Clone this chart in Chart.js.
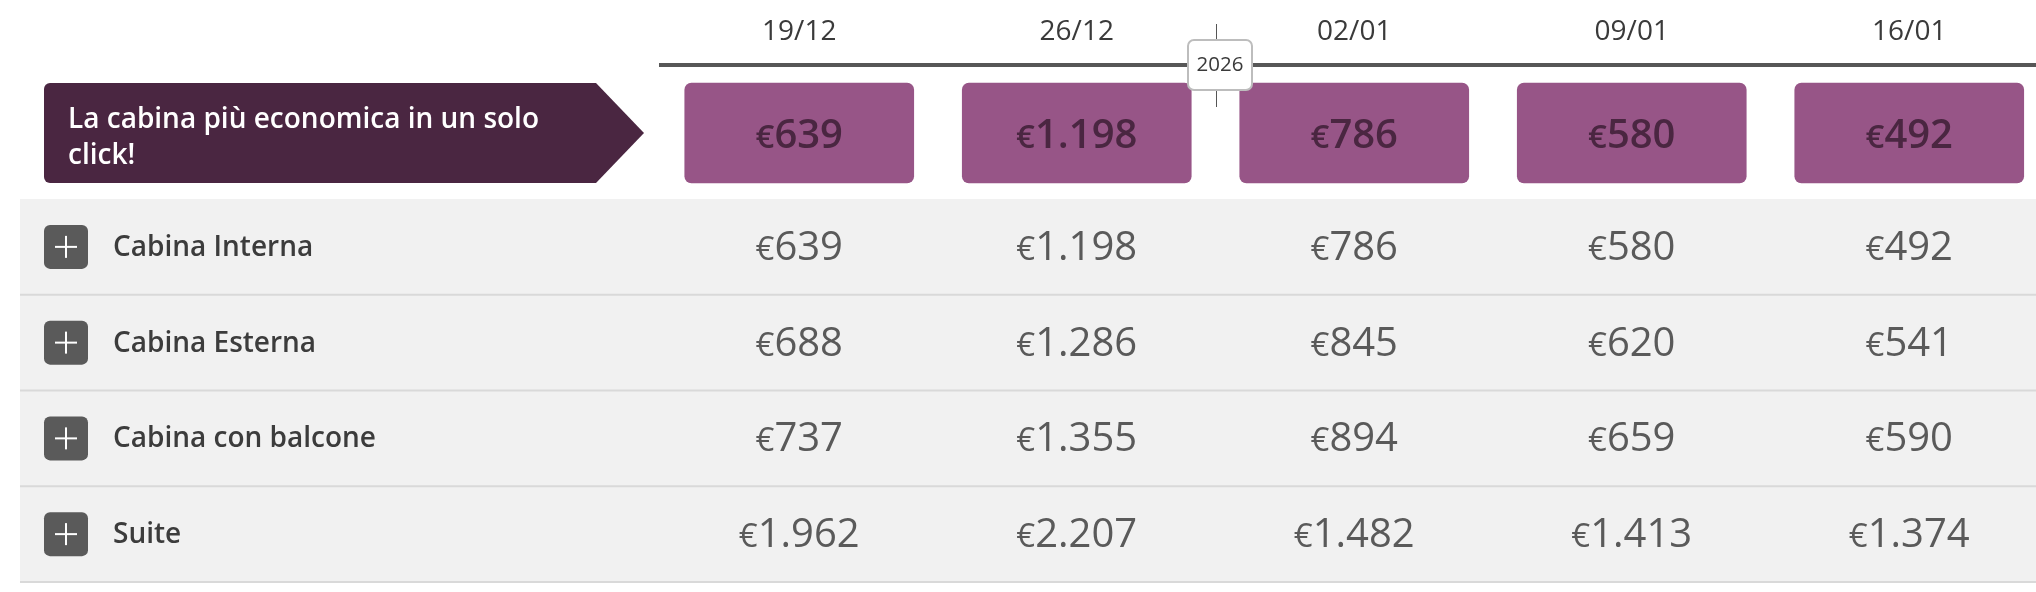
<!DOCTYPE html>
<html>
<head>
<meta charset="utf-8">
<title>Prezzi cabine</title>
<script src="https://cdn.jsdelivr.net/npm/chart.js@4"></script>
<style>
  html, body { margin: 0; padding: 0; background: #fff; overflow: hidden; }
  #wrap { width: 2036px; height: 592px; overflow: hidden; }
</style>
</head>
<body>
<div id="wrap"><canvas id="myChart" width="2048" height="592"></canvas></div>
<script>
const dates = ["19/12", "26/12", "02/01", "09/01", "16/01"];
const rows = ["Cabina Interna", "Cabina Esterna", "Cabina con balcone", "Suite"];
const cheapest = [639, 1198, 786, 580, 492];
const interna = [639, 1198, 786, 580, 492];
const esterna = [688, 1286, 845, 620, 541];
const balcone = [737, 1355, 894, 659, 590];
const suite = [1962, 2207, 1482, 1413, 1374];
const promoLines = ["La cabina più economica in un solo", "click!"];
const yearLabel = "2026";

const FONT = '"Open Sans", "Noto Sans", sans-serif';

function priceText(v) {
  return String(v).replace(/\B(?=(\d{3})+$)/g, ".");
}

function drawPrice(ctx, x, y, value, color, weight) {
  const digits = priceText(value);
  ctx.font = weight + " 33px " + FONT;
  const w1 = ctx.measureText("€").width;
  ctx.font = weight + " 40px " + FONT;
  const w2 = ctx.measureText(digits).width;
  const left = x - (w1 + w2) / 2;
  ctx.fillStyle = color;
  ctx.textBaseline = "alphabetic";
  ctx.textAlign = "left";
  ctx.fillText(digits, left + w1, y);
  ctx.font = weight + " 33px " + FONT;
  ctx.fillText("€", left, y);
}

function priceRow(values, row) {
  return values.map((v, i) => ({ x: dates[i], y: row, v: v }));
}

// grey table background, row lines, promo arrow and plus buttons
const tablePlugin = {
  id: "tablePlugin",
  beforeDraw(chart) {
    const { ctx, scales } = chart;
    const y = scales.y;
    const step = y.getPixelForValue(1) - y.getPixelForValue(0);
    ctx.save();
    ctx.fillStyle = "#f1f1f1";
    ctx.fillRect(20, y.top, chart.width - 20, y.bottom - y.top);
    ctx.fillStyle = "#d9d9d9";
    rows.forEach((r, i) => {
      ctx.fillRect(20, y.getPixelForValue(i) + step / 2 - 1, chart.width - 20, 2);
    });

    rows.forEach((r, i) => {
      const cy = y.getPixelForValue(i);
      ctx.fillStyle = "#5a5a5a";
      ctx.beginPath();
      ctx.roundRect(44, cy - 22, 44, 44, 6);
      ctx.fill();
      ctx.fillStyle = "#fff";
      ctx.fillRect(55, cy - 1, 22, 2);
      ctx.fillRect(65, cy - 11, 2, 22);
    });

    // promo arrow, same band as the cheapest bars
    const h = scales.yHead;
    const top = h.getPixelForValue(1);
    const bottom = h.getPixelForValue(0);
    ctx.fillStyle = "#4a2641";
    ctx.beginPath();
    ctx.moveTo(596, top);
    ctx.lineTo(644, (top + bottom) / 2);
    ctx.lineTo(596, bottom);
    ctx.lineTo(50, bottom);
    ctx.arcTo(44, bottom, 44, bottom - 6, 6);
    ctx.lineTo(44, top + 6);
    ctx.arcTo(44, top, 50, top, 6);
    ctx.closePath();
    ctx.fill();
    ctx.fillStyle = "#fff";
    ctx.font = "600 28px " + FONT;
    ctx.textAlign = "left";
    ctx.textBaseline = "middle";
    promoLines.forEach((t, i) => ctx.fillText(t, 68, (top + bottom) / 2 - 13 + i * 36));
    ctx.restore();
  },
  afterDatasetsDraw(chart) {
    const { ctx } = chart;
    ctx.save();
    chart.data.datasets.forEach((ds, d) => {
      const meta = chart.getDatasetMeta(d);
      meta.data.forEach((el, i) => {
        if (ds.type === "bar") {
          const c = el.getCenterPoint();
          drawPrice(ctx, c.x, c.y + 14.5, cheapest[i], "#4a2641", 600);
        } else {
          drawPrice(ctx, el.x, el.y + 13, ds.data[i].v, "#5a5a5a", 400);
        }
      });
    });
    ctx.restore();
  },
  afterDraw(chart) {
    const { ctx, scales } = chart;
    const px = Math.round(scales.x.getPixelForValue(1.5));
    ctx.save();
    ctx.fillStyle = "#555";
    ctx.fillRect(px, 24, 1, 83);
    ctx.fillStyle = "#fff";
    ctx.strokeStyle = "#bdbdbd";
    ctx.lineWidth = 2;
    ctx.beginPath();
    ctx.roundRect(px - 28, 40, 64, 50, 6);
    ctx.fill();
    ctx.stroke();
    ctx.fillStyle = "#3a3a3a";
    ctx.font = "400 20.5px " + FONT;
    ctx.textAlign = "center";
    ctx.textBaseline = "middle";
    ctx.fillText(yearLabel, px + 4, 65);
    ctx.restore();
  },
};

new Chart(document.getElementById("myChart"), {
  type: "bar",
  data: {
    labels: dates,
    datasets: [
      {
        type: "bar",
        label: "La cabina più economica",
        yAxisID: "yHead",
        data: cheapest.map(() => [0, 1]),
        backgroundColor: "#975587",
        borderRadius: 7,
        borderSkipped: false,
        barThickness: 229,
      },
      { type: "scatter", label: rows[0], yAxisID: "y", data: priceRow(interna, rows[0]), pointRadius: 0 },
      { type: "scatter", label: rows[1], yAxisID: "y", data: priceRow(esterna, rows[1]), pointRadius: 0 },
      { type: "scatter", label: rows[2], yAxisID: "y", data: priceRow(balcone, rows[2]), pointRadius: 0 },
      { type: "scatter", label: rows[3], yAxisID: "y", data: priceRow(suite, rows[3]), pointRadius: 0 },
    ],
  },
  options: {
    responsive: false,
    animation: false,
    devicePixelRatio: 1,
    layout: { padding: { left: 113, bottom: 10, top: 0, right: 0 } },
    plugins: { legend: { display: false }, tooltip: { enabled: false } },
    scales: {
      x: {
        type: "category",
        position: "top",
        offset: true,
        afterFit(scale) { scale.height = 65; },
        grid: { display: false, drawTicks: false },
        border: { display: true, color: "#575757", width: 4 },
        ticks: { color: "#3a3a3a", font: { family: FONT, size: 28 }, padding: 16, maxRotation: 0 },
      },
      yHead: {
        type: "linear",
        position: "left",
        stack: "table",
        stackWeight: 134,
        weight: 2,
        min: -0.16,
        max: 1.18,
        display: false,
      },
      y: {
        type: "category",
        labels: rows,
        position: "left",
        stack: "table",
        stackWeight: 383,
        weight: 1,
        offset: true,
        afterFit(scale) {
          scale.width = 547.5;
          scale.paddingTop = 0;
          scale.paddingBottom = 0;
        },
        grid: { display: false, drawTicks: false },
        border: { display: false },
        ticks: {
          color: "#3c3c3c",
          font: { family: FONT, size: 28, weight: "600" },
          crossAlign: "far",
          padding: 0,
          labelOffset: 1,
        },
      },
    },
  },
  plugins: [tablePlugin],
});
</script>
</body>
</html>
